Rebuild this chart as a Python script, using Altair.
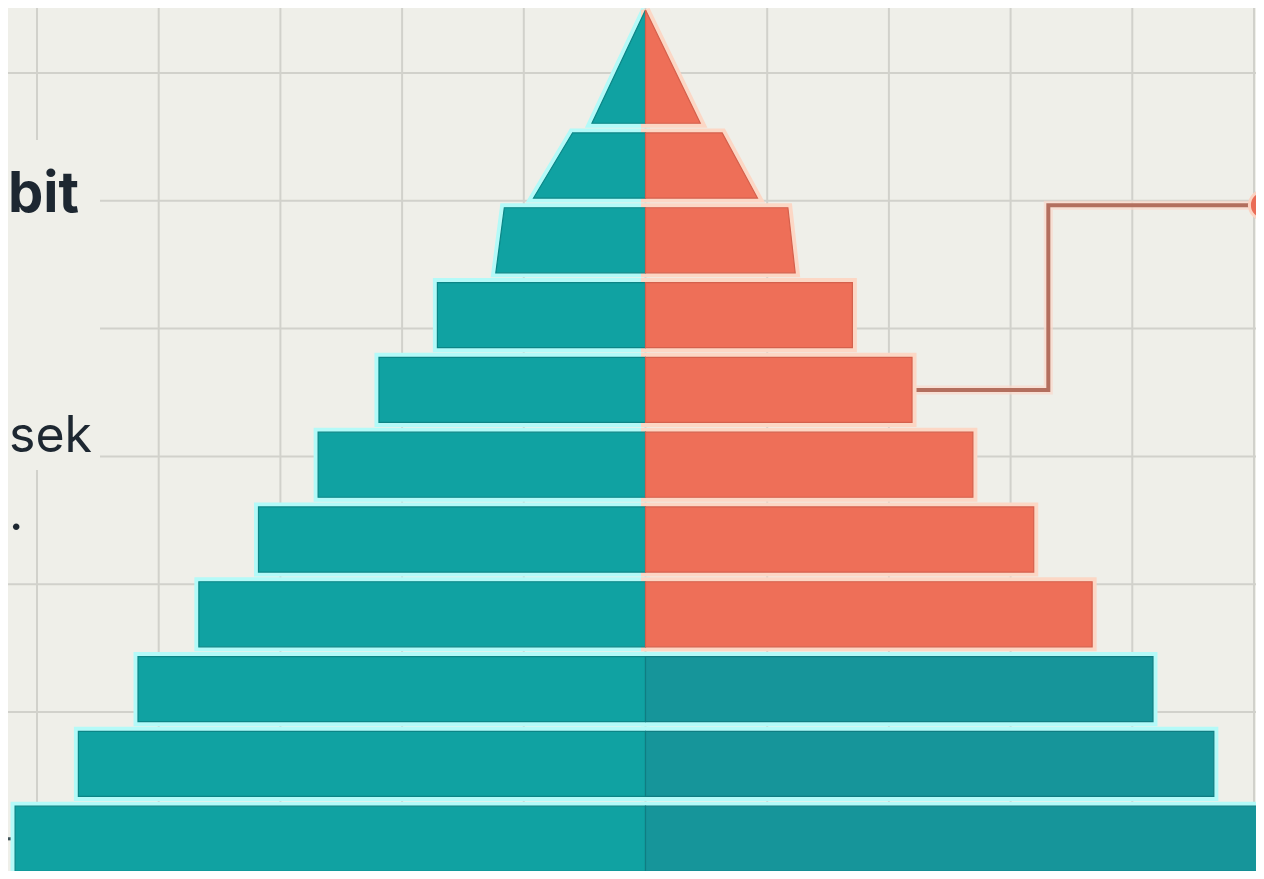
import altair as alt
import pandas as pd

# ---------------- data ----------------
levels = [f"Lapisan {i}" for i in range(1, 12)]
row_pos = list(range(1, 12))
left_top = [0.00, 0.60, 1.16, 1.71, 2.19, 2.69, 3.18, 3.67, 4.17, 4.66, 5.18]
left_bottom = [0.44, 0.92, 1.23, 1.71, 2.19, 2.69, 3.18, 3.67, 4.17, 4.66, 5.18]
right_top = [0.00, 0.63, 1.17, 1.70, 2.19, 2.69, 3.19, 3.67, 4.17, 4.67, 5.20]
right_bottom = [0.45, 0.92, 1.23, 1.70, 2.19, 2.69, 3.19, 3.67, 4.17, 4.67, 5.20]
right_group = ["coral"] * 8 + ["teal_dark"] * 3

grid_x = [-5, -4, -3, -2, -1, 0, 1, 2, 3, 4, 5]
grid_y = [0, 1, 2, 3, 4, 5, 6]

conn_x = [2.19, 3.31, 3.31, 5.08]
conn_y = [5, 5, 2.53, 2.53]
dot_x = [5.08]
dot_y = [2.53]
leader_x = [-5.45, -5.18]
leader_y = [11, 11]

text_lines = ["bit", "sek", "."]

# ---------------- styles ----------------
W, H = 1248, 863
BG = "#efefe9"
GRID = "#d1d1cb"
FILL = {"teal": "#10a2a2", "coral": "#ee6f58", "teal_dark": "#16959a"}
EDGE = {"teal": "#0c8586", "coral": "#d4604c", "teal_dark": "#107d82"}
HALO = {"teal": "#b4faf8", "coral": "#fcd7c5", "teal_dark": "#b4faf8"}
HALF = 0.435
PEAK = 0.644

# pixel -> data helpers (layout only)
CX, XSTEP = 645.5, 121.7
RY0, RSTEP = 15.9, 74.8
GY0, GSTEP = 73.0, 127.8
xs = alt.Scale(domain=[(8 - CX) / XSTEP, (8 + W - CX) / XSTEP], nice=False, zero=False)
ys = alt.Scale(domain=[(8 - RY0) / RSTEP, (8 + H - RY0) / RSTEP], nice=False, zero=False, reverse=True)
gys = alt.Scale(domain=[(8 - GY0) / GSTEP, (8 + H - GY0) / GSTEP], nice=False, zero=False, reverse=True)

# polygons
recs = []
for i, lv in enumerate(levels):
    r = row_pos[i]
    top = r - HALF - (PEAK if i == 0 else 0)
    bot = r + HALF
    for side in ("L", "R"):
        if side == "L":
            grp = "teal"
            pts = [(top, -left_top[i], 0), (bot, -left_bottom[i], 0)]
        else:
            grp = right_group[i]
            pts = [(top, 0, right_top[i]), (bot, 0, right_bottom[i])]
        for (y, x, x2) in pts:
            recs.append(dict(poly=f"{lv}-{side}", y=y, x=x, x2=x2,
                             fill=FILL[grp], edge=EDGE[grp], halo=HALO[grp]))
poly_df = pd.DataFrame(recs)

base_enc = dict(
    y=alt.Y("y:Q", scale=ys, axis=None),
    x=alt.X("x:Q", scale=xs, axis=None),
    x2="x2:Q",
    detail="poly:N",
)

halo = alt.Chart(poly_df).mark_area(orient="horizontal", strokeWidth=9, strokeJoin="miter", clip=True).encode(
    fill=alt.Fill("halo:N", scale=None), stroke=alt.Stroke("halo:N", scale=None), **base_enc)
bars = alt.Chart(poly_df).mark_area(orient="horizontal", strokeWidth=1.2, strokeJoin="miter", clip=True).encode(
    fill=alt.Fill("fill:N", scale=None), stroke=alt.Stroke("edge:N", scale=None), **base_enc)

vgrid = alt.Chart(pd.DataFrame({"gx": grid_x})).mark_rule(color=GRID, strokeWidth=2, clip=True).encode(
    x=alt.X("gx:Q", scale=xs, axis=None), y=alt.value(0), y2=alt.value(H))
hgrid = alt.Chart(pd.DataFrame({"gy": grid_y})).mark_rule(color=GRID, strokeWidth=2, clip=True).encode(
    y=alt.Y("gy:Q", scale=gys, axis=None), x=alt.value(0), x2=alt.value(W))

panel = alt.Chart(pd.DataFrame({"p": [0]})).mark_rect(color=BG).encode(
    x=alt.value(0), x2=alt.value(92), y=alt.value(132), y2=alt.value(462))

conn_df = pd.DataFrame({"cx": conn_x, "cy": conn_y, "o": list(range(len(conn_x)))})
conn_halo = alt.Chart(conn_df).mark_line(color="#fbd9ca", strokeWidth=9, opacity=0.7, strokeJoin="miter", clip=True).encode(
    x=alt.X("cx:Q", scale=xs, axis=None), y=alt.Y("cy:Q", scale=ys, axis=None), order="o:Q")
conn = alt.Chart(conn_df).mark_line(color="#b36f5e", strokeWidth=4, strokeJoin="miter", clip=True).encode(
    x=alt.X("cx:Q", scale=xs, axis=None), y=alt.Y("cy:Q", scale=ys, axis=None), order="o:Q")
dot = alt.Chart(pd.DataFrame({"dx": dot_x, "dy": dot_y})).mark_point(
    filled=True, size=820, color="#ea6d57", stroke="#fbd3c2", strokeWidth=3, opacity=1, clip=True).encode(
    x=alt.X("dx:Q", scale=xs, axis=None), y=alt.Y("dy:Q", scale=ys, axis=None))

leader = alt.Chart(pd.DataFrame({"lx": leader_x, "ly": leader_y})).mark_line(
    color="#3f5257", strokeWidth=3, clip=True).encode(
    x=alt.X("lx:Q", scale=xs, axis=None), y=alt.Y("ly:Q", scale=ys, axis=None))

tdf = pd.DataFrame({"t": text_lines})
t1 = alt.Chart(tdf).transform_filter(alt.datum.t == text_lines[0]).mark_text(
    font="Inter", fontSize=56, fontWeight="bold", color="#1d2731", align="left", baseline="alphabetic").encode(
    text="t:N", x=alt.value(0), y=alt.value(204))
t2 = alt.Chart(tdf).transform_filter(alt.datum.t == text_lines[1]).mark_text(
    font="Inter", fontSize=50, fontWeight="normal", color="#1d2731", align="left", baseline="alphabetic").encode(
    text="t:N", x=alt.value(1), y=alt.value(444))
t3 = alt.Chart(tdf).transform_filter(alt.datum.t == text_lines[2]).mark_text(
    font="Inter", fontSize=50, fontWeight="normal", color="#1d2731", align="left", baseline="alphabetic").encode(
    text="t:N", x=alt.value(1), y=alt.value(522))

chart = alt.layer(
    vgrid, hgrid, panel, leader, conn_halo, conn, dot, halo, bars, t1, t2, t3
).resolve_scale(y="independent", x="shared").properties(
    width=W, height=H, padding=0, autosize=alt.AutoSizeParams(type="none"), background=BG
).configure_view(stroke=None)

chart.save("out.html", embed_options={"renderer": "svg", "actions": False})
